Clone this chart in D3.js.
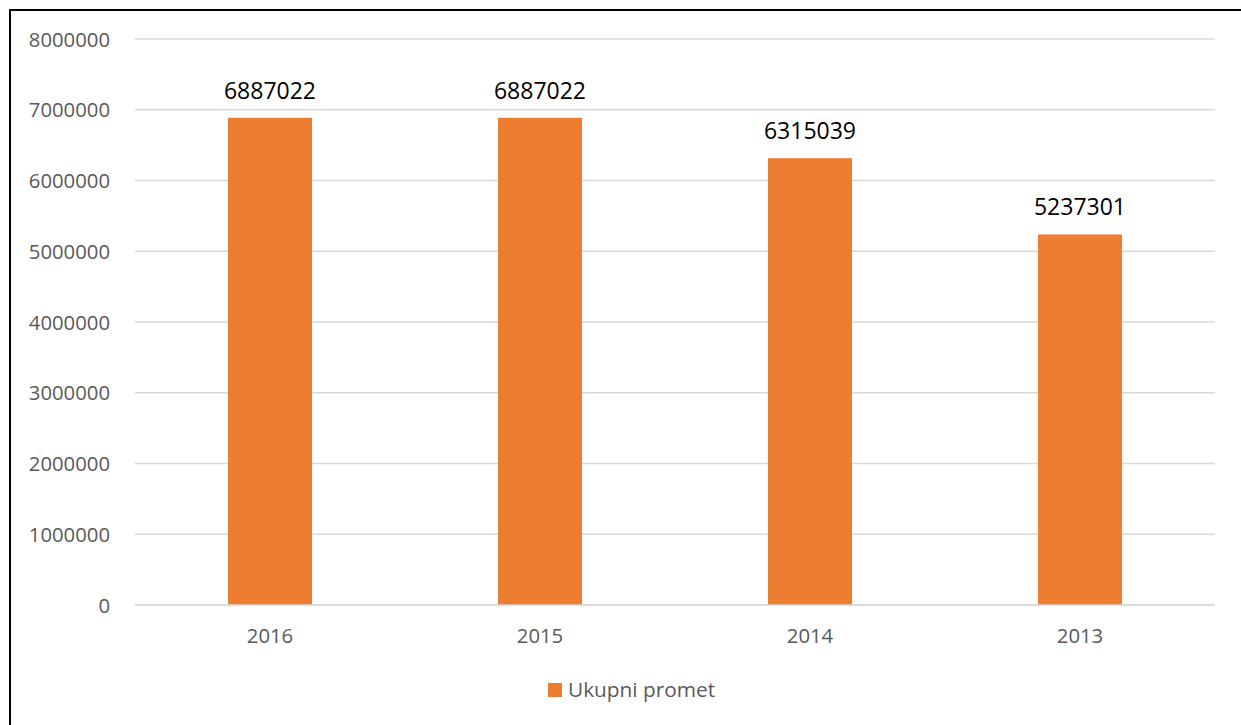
<!DOCTYPE html>
<html><head><meta charset="utf-8">
<script src="https://cdn.jsdelivr.net/npm/d3@7"></script>
<style>body{margin:0;background:#fff}svg{display:block}</style>
</head><body>
<script>
const categories = ["2016", "2015", "2014", "2013"];
const values = [6887022, 6887022, 6315039, 5237301];
const seriesName = "Ukupni promet";
const yTicks = [0, 1000000, 2000000, 3000000, 4000000, 5000000, 6000000, 7000000, 8000000];

const W = 1241, H = 725;
const svg = d3.select("body").append("svg").attr("width", W).attr("height", H);
const font = "'Open Sans', 'Noto Sans', sans-serif";

// border (only top and left visible in frame)
svg.append("rect").attr("x", 10).attr("y", 10).attr("width", 1400).attr("height", 900)
  .attr("fill", "none").attr("stroke", "#000").attr("stroke-width", 2);

const x = d3.scaleBand().domain(categories).range([135, 1215]).paddingInner(0.689).paddingOuter(0.3445);
const y = d3.scaleLinear().domain([0, 8000000]).range([605, 39]);

// gridlines
svg.append("g").selectAll("line").data(yTicks).join("line")
  .attr("x1", 135).attr("x2", 1215)
  .attr("y1", d => y(d)).attr("y2", d => y(d))
  .attr("stroke", "#d9d9d9").attr("stroke-width", 1.5);

// y axis labels
const yAxis = d3.axisLeft(y).tickValues(yTicks).tickSize(0).tickPadding(0).tickFormat(d3.format("d"));
const gy = svg.append("g").attr("transform", "translate(110,0)").call(yAxis);
gy.select(".domain").remove();
gy.selectAll("text").attr("font-family", font).attr("font-size", 20.3).attr("fill", "#595959").attr("dy", "0.35em");

// bars
svg.append("g").selectAll("rect").data(values).join("rect")
  .attr("x", (d, i) => x(categories[i]))
  .attr("width", x.bandwidth())
  .attr("y", d => y(d))
  .attr("height", d => y(0) - y(d))
  .attr("fill", "#ED7D31");

// zero line on top
svg.append("line").attr("x1", 135).attr("x2", 1215).attr("y1", y(0)).attr("y2", y(0))
  .attr("stroke", "#d9d9d9").attr("stroke-width", 1.5);

// data labels
svg.append("g").selectAll("text").data(values).join("text")
  .attr("x", (d, i) => x(categories[i]) + x.bandwidth() / 2)
  .attr("y", d => y(d) - 19)
  .attr("text-anchor", "middle")
  .attr("font-family", font).attr("font-size", 23).attr("fill", "#000")
  .text(d => d);

// x axis labels
const xAxis = d3.axisBottom(x).tickSize(0).tickPadding(0);
const gx = svg.append("g").attr("transform", "translate(0,636)").call(xAxis);
gx.select(".domain").remove();
gx.selectAll("text").attr("font-family", font).attr("font-size", 20.3).attr("fill", "#595959").attr("dy", "0.35em");

// legend
const lg = svg.append("g");
lg.append("rect").attr("x", 548).attr("y", 683).attr("width", 14).attr("height", 14).attr("fill", "#ED7D31");
lg.append("text").attr("x", 568).attr("y", 690).attr("dy", "0.35em")
  .attr("font-family", font).attr("font-size", 20.8).attr("fill", "#595959").text(seriesName);
</script>
</body></html>
